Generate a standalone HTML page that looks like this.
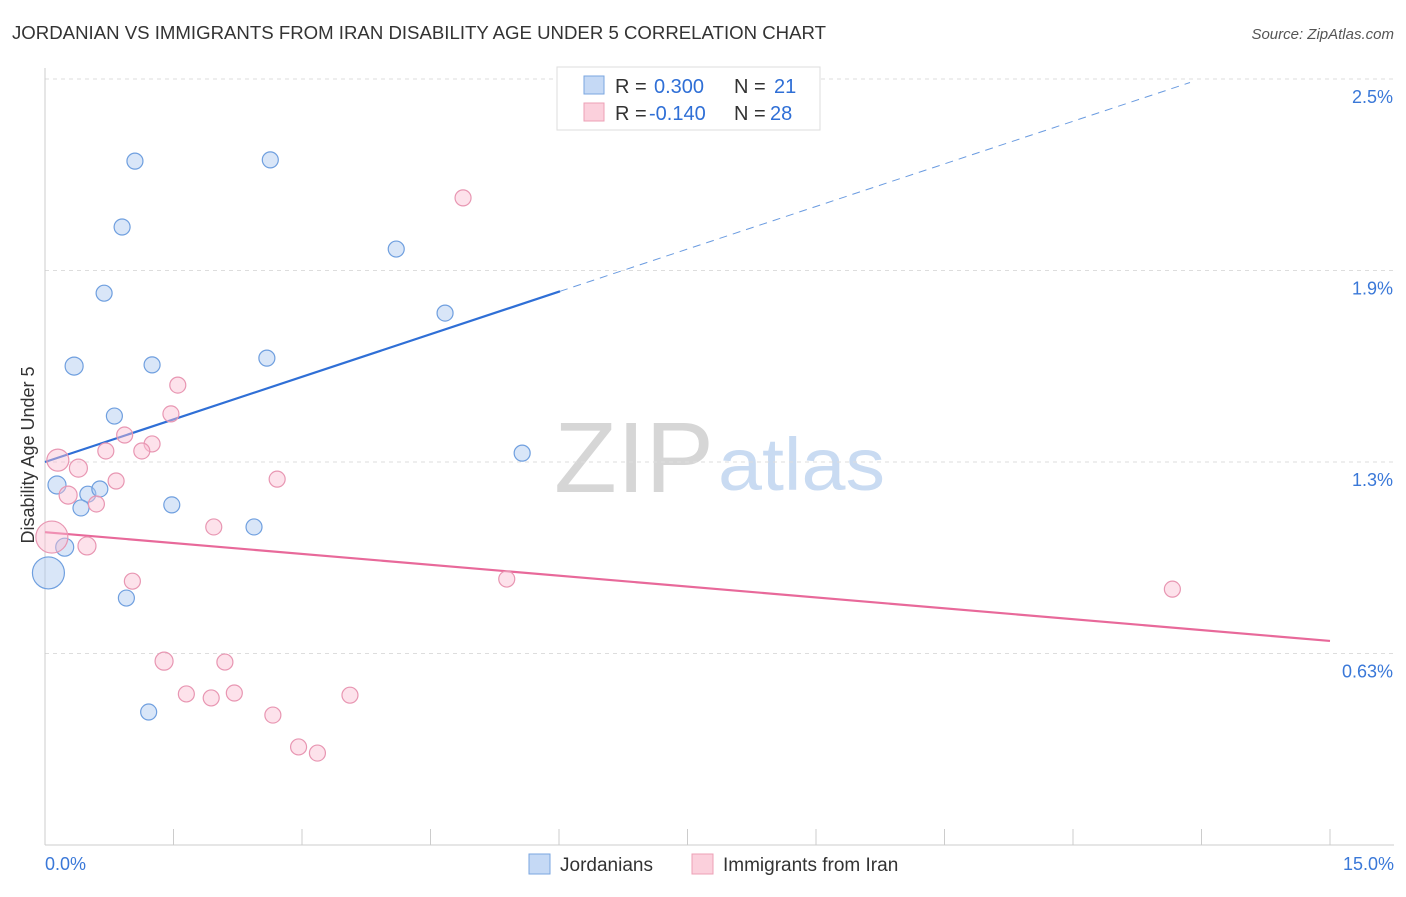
<!DOCTYPE html>
<html><head><meta charset="utf-8"><style>
body{margin:0;background:#fff;font-family:"Liberation Sans",sans-serif;}
svg text{font-family:"Liberation Sans",sans-serif;}
</style></head><body>
<svg id="c" width="1406" height="892">
<text x="12" y="39" font-size="18" fill="#333" textLength="814" lengthAdjust="spacingAndGlyphs">JORDANIAN VS IMMIGRANTS FROM IRAN DISABILITY AGE UNDER 5 CORRELATION CHART</text>
<text x="1394" y="39" font-size="15" fill="#555" text-anchor="end" font-style="italic">Source: ZipAtlas.com</text>
<text x="714" y="492" font-size="100" fill="#d6d6d6" font-family="Liberation Serif" text-anchor="end" textLength="160" lengthAdjust="spacingAndGlyphs">ZIP</text>
<text x="718" y="490" font-size="74" fill="#c9dbf2" textLength="167" lengthAdjust="spacingAndGlyphs">atlas</text>
<g id="grid"></g><g id="axes"></g><g id="trend"></g><g id="pts"></g>
<text transform="translate(34,455) rotate(-90)" font-size="18" fill="#333" text-anchor="middle">Disability Age Under 5</text>
<text x="45" y="870" font-size="18" fill="#3a78d8">0.0%</text>
<text x="1394" y="870" font-size="18" fill="#3a78d8" text-anchor="end">15.0%</text>
<g>
<rect x="557" y="67" width="263" height="63" fill="#fff" stroke="#ddd"/>
<rect x="584" y="76" width="20" height="18" fill="#c5d9f5" stroke="#7aa6e0"/>
<rect x="584" y="103" width="20" height="18" fill="#fbd0dc" stroke="#eda0b6"/>
<text x="615" y="93" font-size="20" fill="#333">R =</text>
<text x="654" y="93" font-size="20" fill="#2f6fd6">0.300</text>
<text x="734" y="93" font-size="20" fill="#333">N =</text>
<text x="774" y="93" font-size="20" fill="#2f6fd6">21</text>
<text x="615" y="120" font-size="20" fill="#333">R =</text>
<text x="649" y="120" font-size="20" fill="#2f6fd6">-0.140</text>
<text x="734" y="120" font-size="20" fill="#333">N =</text>
<text x="770" y="120" font-size="20" fill="#2f6fd6">28</text>
</g>
<g>
<rect x="529" y="854" width="21" height="20" fill="#c5d9f5" stroke="#7aa6e0"/>
<text x="560" y="871" font-size="19" fill="#333">Jordanians</text>
<rect x="692" y="854" width="21" height="20" fill="#fbd0dc" stroke="#eda0b6"/>
<text x="723" y="871" font-size="19" fill="#333">Immigrants from Iran</text>
</g>
</svg>
<script>
const yTicks=[0.625,1.25,1.875,2.5];
const yTickLabels=["0.63%","1.3%","1.9%","2.5%"];
const xTicks=[0,1.5,3,4.5,6,7.5,9,10.5,12,13.5,15];
const blueX=[1.05,2.63,0.90,4.10,0.69,4.67,0.34,1.25,2.59,0.81,5.57,0.14,0.50,0.64,0.42,1.48,2.44,0.23,0.04,0.95,1.21];
const blueY=[2.232,2.236,2.017,1.945,1.801,1.736,1.563,1.567,1.589,1.400,1.279,1.175,1.145,1.162,1.100,1.110,1.038,0.972,0.888,0.806,0.434];
const blueR=[8,8,8,8,8,8,9,8,8,8,8,9,8,8,8,8,8,9,16,8,8];
const pinkX=[4.88,1.55,1.47,0.93,1.25,0.71,1.13,0.15,0.39,0.83,2.71,0.27,0.60,1.97,0.08,0.49,1.02,5.39,13.16,1.39,2.10,1.65,1.94,2.21,3.56,2.66,2.96,3.18];
const pinkY=[2.112,1.501,1.407,1.338,1.309,1.286,1.286,1.256,1.230,1.188,1.194,1.142,1.113,1.038,1.005,0.976,0.861,0.868,0.835,0.600,0.597,0.493,0.480,0.496,0.489,0.424,0.320,0.300];
const pinkR=[8,8,8,8,8,8,8,11,9,8,8,9,8,8,16,9,8,8,8,9,8,8,8,8,8,8,8,8];
const blueTrend=[1.25,2.64];
const pinkTrend=[1.021,0.666];
const NS="http://www.w3.org/2000/svg";
const X=v=>45+v/15*1285;
const Y=v=>79+(2.5-v)/0.625*191.5;
function mk(p,t,a){const e=document.createElementNS(NS,t);for(const k in a)e.setAttribute(k,a[k]);document.getElementById(p).appendChild(e);return e;}
yTicks.forEach((t,i)=>{
 const l=mk('grid','line',{x1:45,x2:1394,y1:Y(t),y2:Y(t),stroke:'#ddd','stroke-dasharray':'4,4'});
 
 
 const tx=mk('grid','text',{x:1393,y:Y(t)+24,'font-size':18,fill:'#3a78d8','text-anchor':'end'});
 tx.textContent=yTickLabels[i];
 
 
});
let a=mk('axes','line',{x1:45,x2:45,y1:68,y2:845,stroke:'#ccc'});


a=mk('axes','line',{x1:45,x2:1394,y1:845,y2:845,stroke:'#ccc'});


xTicks.forEach(t=>{
 const l=mk('axes','line',{x1:X(t),x2:X(t),y1:829,y2:845,stroke:'#ccc'});
 
 
});
const xs=(560-45)/1285*15;
let t=mk('trend','line',{x1:X(0),y1:Y(blueTrend[0]),x2:X(xs),y2:Y(blueTrend[0]+(blueTrend[1]-blueTrend[0])*xs/15),stroke:'#2f6fd6','stroke-width':2.2});


const xe=(1190-45)/1285*15;
t=mk('trend','line',{x1:X(xs),y1:Y(blueTrend[0]+(blueTrend[1]-blueTrend[0])*xs/15),x2:X(xe),y2:Y(blueTrend[0]+(blueTrend[1]-blueTrend[0])*xe/15),stroke:'#6a9be0','stroke-width':1,'stroke-dasharray':'8,6'});


t=mk('trend','line',{x1:X(0),y1:Y(pinkTrend[0]),x2:X(15),y2:Y(pinkTrend[1]),stroke:'#e8699a','stroke-width':2.2});


blueX.forEach((v,i)=>{
 const c=mk('pts','circle',{cx:X(v),cy:Y(blueY[i]),r:blueR[i],fill:'rgba(170,200,240,0.45)',stroke:'#6f9fdf','stroke-width':1.2});
 
 
});
pinkX.forEach((v,i)=>{
 const c=mk('pts','circle',{cx:X(v),cy:Y(pinkY[i]),r:pinkR[i],fill:'rgba(250,190,210,0.45)',stroke:'#e896b2','stroke-width':1.2});
 
 
});
</script>
</body></html>
